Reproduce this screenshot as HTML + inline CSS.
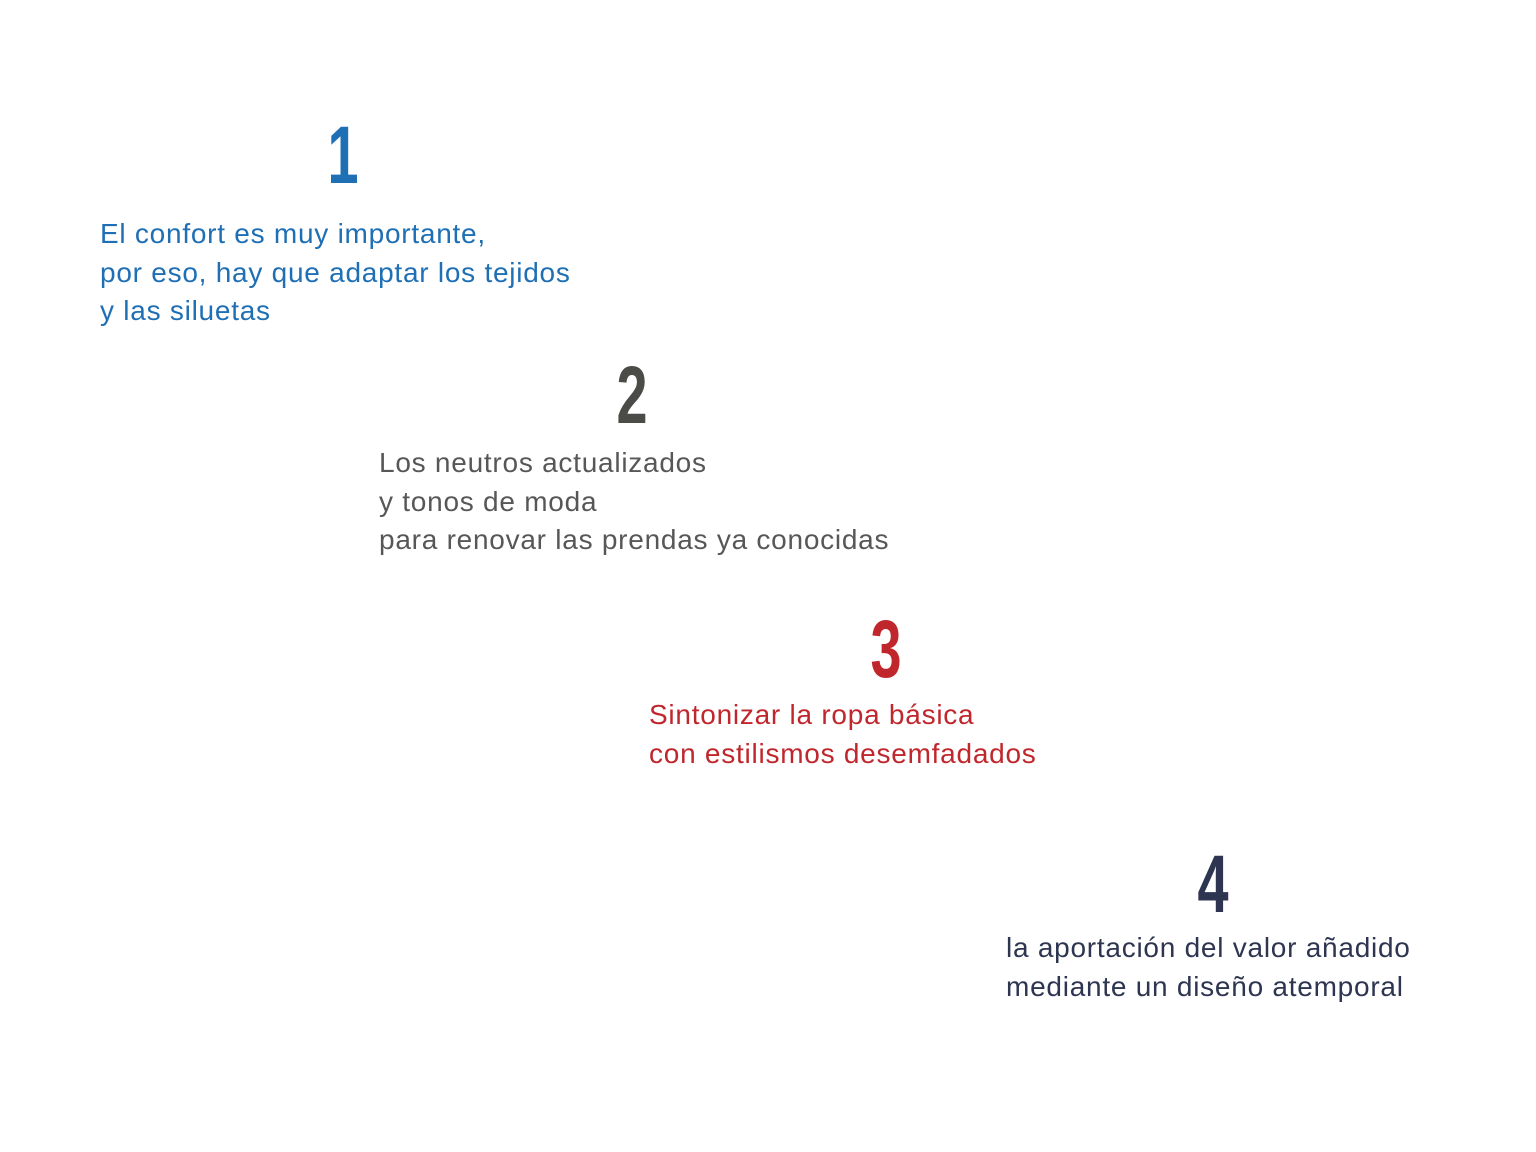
<!DOCTYPE html>
<html><head><meta charset="utf-8"><style>
html,body{margin:0;padding:0;background:#fff;width:1536px;height:1152px;overflow:hidden;position:relative}
.n{position:absolute;font-family:"Liberation Sans",sans-serif;font-weight:bold;font-size:82px;line-height:82px;width:100px;text-align:center;transform:scaleX(0.68);}
.t{position:absolute;font-family:"Liberation Sans",sans-serif;font-size:28px;line-height:38.7px;white-space:nowrap;letter-spacing:0.75px}
</style></head><body>
<div class="n" style="left:293px;top:115px;color:#1f6fb5">1</div>
<div class="t" style="left:100px;top:215px;color:#1f6fb5">El confort es muy importante,<br>por eso, hay que adaptar los tejidos<br>y las siluetas</div>
<div class="n" style="left:582px;top:355px;color:#4b4b47">2</div>
<div class="t" style="left:379px;top:444px;color:#575757">Los neutros actualizados<br>y tonos de moda<br>para renovar las prendas ya conocidas</div>
<div class="n" style="left:836px;top:609px;color:#c0272d">3</div>
<div class="t" style="left:649px;top:696px;color:#c0272d">Sintonizar la ropa básica<br>con estilismos desemfadados</div>
<div class="n" style="left:1163px;top:844px;color:#2d3550">4</div>
<div class="t" style="left:1006px;top:929px;color:#2d3550">la aportación del valor añadido<br>mediante un diseño atemporal</div>
</body></html>
